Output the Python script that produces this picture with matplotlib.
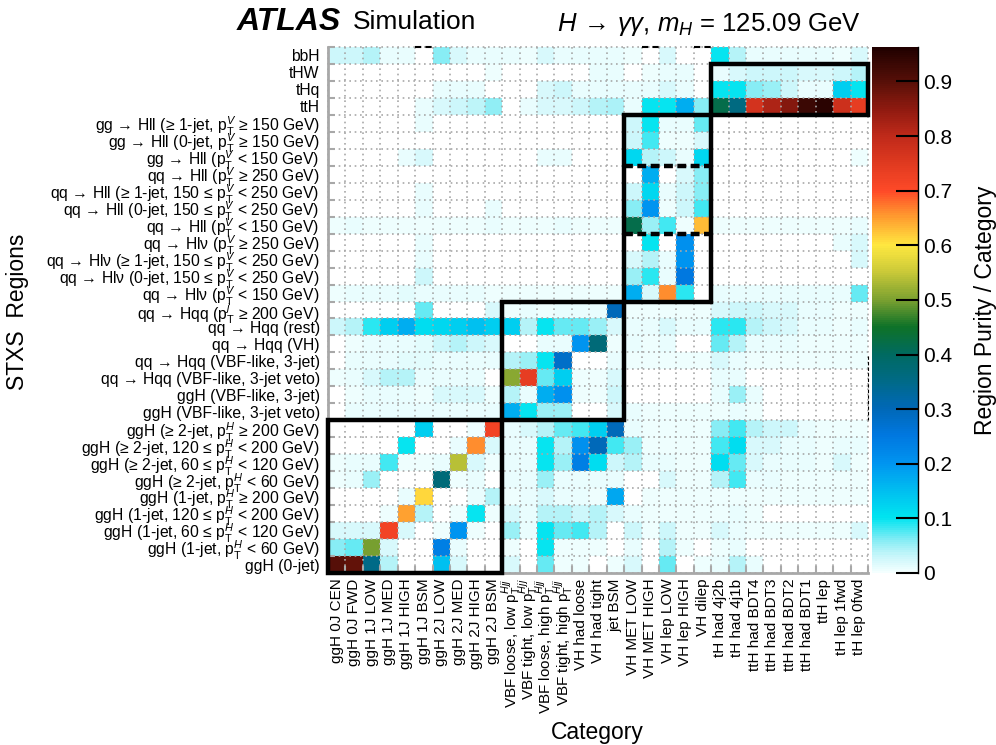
import numpy as np
import matplotlib
matplotlib.use("Agg")
import matplotlib.pyplot as plt
from matplotlib.colors import LinearSegmentedColormap, Normalize
from matplotlib.patches import Rectangle

plt.rcParams['font.family'] = ['Liberation Sans', 'DejaVu Sans']
plt.rcParams['mathtext.fontset'] = 'custom'
plt.rcParams['mathtext.rm'] = 'Liberation Sans'
plt.rcParams['mathtext.it'] = 'Liberation Sans:italic'
plt.rcParams['mathtext.bf'] = 'Liberation Sans:bold'

PV = r"$\mathrm{p}_{\mathrm{T}}^{V}$"
PH = r"$\mathrm{p}_{\mathrm{T}}^{H}$"
PJ = r"$\mathrm{p}_{\mathrm{T}}^{j}$"
PHJJ = r"$\mathrm{p}_{\mathrm{T}}^{Hjj}$"

categories = ["ggH 0J CEN", "ggH 0J FWD", "ggH 1J LOW", "ggH 1J MED", "ggH 1J HIGH",
              "ggH 1J BSM", "ggH 2J LOW", "ggH 2J MED", "ggH 2J HIGH", "ggH 2J BSM",
              "VBF loose, low " + PHJJ, "VBF tight, low " + PHJJ,
              "VBF loose, high " + PHJJ, "VBF tight, high " + PHJJ,
              "VH had loose", "VH had tight", "jet BSM", "VH MET LOW", "VH MET HIGH",
              "VH lep LOW", "VH lep HIGH", "VH dilep", "tH had 4j2b", "tH had 4j1b",
              "ttH had BDT4", "ttH had BDT3", "ttH had BDT2", "ttH had BDT1",
              "ttH lep", "tH lep 1fwd", "tH lep 0fwd"]

regions = ["bbH", "tHW", "tHq", "ttH",
           "gg → Hll (≥ 1-jet, " + PV + " ≥ 150 GeV)",
           "gg → Hll (0-jet, " + PV + " ≥ 150 GeV)",
           "gg → Hll (" + PV + " < 150 GeV)",
           "qq → Hll (" + PV + " ≥ 250 GeV)",
           "qq → Hll (≥ 1-jet, 150 ≤ " + PV + " < 250 GeV)",
           "qq → Hll (0-jet, 150 ≤ " + PV + " < 250 GeV)",
           "qq → Hll (" + PV + " < 150 GeV)",
           "qq → Hlν (" + PV + " ≥ 250 GeV)",
           "qq → Hlν (≥ 1-jet, 150 ≤ " + PV + " < 250 GeV)",
           "qq → Hlν (0-jet, 150 ≤ " + PV + " < 250 GeV)",
           "qq → Hlν (" + PV + " < 150 GeV)",
           "qq → Hqq (" + PJ + " ≥ 200 GeV)",
           "qq → Hqq (rest)",
           "qq → Hqq (VH)",
           "qq → Hqq (VBF-like, 3-jet)",
           "qq → Hqq (VBF-like, 3-jet veto)",
           "ggH (VBF-like, 3-jet)",
           "ggH (VBF-like, 3-jet veto)",
           "ggH (≥ 2-jet, " + PH + " ≥ 200 GeV)",
           "ggH (≥ 2-jet, 120 ≤ " + PH + " < 200 GeV)",
           "ggH (≥ 2-jet, 60 ≤ " + PH + " < 120 GeV)",
           "ggH (≥ 2-jet, " + PH + " < 60 GeV)",
           "ggH (1-jet, " + PH + " ≥ 200 GeV)",
           "ggH (1-jet, 120 ≤ " + PH + " < 200 GeV)",
           "ggH (1-jet, 60 ≤ " + PH + " < 120 GeV)",
           "ggH (1-jet, " + PH + " < 60 GeV)",
           "ggH (0-jet)"]

# purity per STXS region (row, top to bottom) across the 31 categories
r_bbH = [.03,.03,.04,.01,.01,0,.06,.02,.01,.01, .01,.005,.02,.01,.01,.01,.01, .005,0,.02,0,0, .10,.04,.01,.01,.01,.01,.01,.005,.02]
r_tHW = [0,0,0,0,0,0,0,0,0,.005, 0,0,0,0,0,.01,.01, 0,.005,.01,.01,0, .01,.02,.03,.03,.03,.02,.02,.03,.04]
r_tHq = [0,0,0,0,0,0,.01,.01,.01,0, 0,0,.02,.03,.01,.01,.01, .01,.01,.02,.01,0, .10,.10,.06,.05,.03,.01,.01,.13,.10]
r_ttH = [0,0,0,0,0,.01,.02,.03,.035,.055, 0,.01,.02,.02,.03,.04,.045, .01,.10,.10,.17,.06, .42,.36,.77,.82,.86,.93,.95,.78,.74]
r_ggHll_1j = [0,0,0,0,0,.01,0,0,0,0, 0,0,0,0,0,0,0, .03,.10,.01,.01,.07, 0,0,0,0,0,0,0,0,0]
r_ggHll_0j = [0,0,0,0,0,0,0,0,0,0, 0,0,0,0,0,0,0, .03,.08,.005,.005,.02, 0,0,0,0,0,0,0,0,0]
r_ggHll_lo = [0,0,0,0,.01,.02,0,0,0,0, 0,0,.01,.01,0,0,0, .12,.04,.03,.01,.12, 0,0,0,0,0,0,0,0,.005]
r_qqHll_250 = [0,0,0,0,0,0,0,0,0,0, 0,0,0,0,0,0,0, 0,.17,0,.02,.06, 0,0,0,0,0,0,0,0,0]
r_qqHll_1j = [0,0,0,0,0,.01,0,0,0,0, 0,0,0,0,0,0,0, .03,.12,.01,.03,.06, 0,0,0,0,0,0,0,0,0]
r_qqHll_0j = [0,0,0,0,0,.01,0,0,0,.01, 0,0,0,0,0,0,0, .06,.20,.005,.03,.08, 0,0,0,0,0,0,0,0,0]
r_qqHll_lo = [.005,.01,.005,.005,.005,.005,.005,.005,.005,.01, .005,.005,.005,.01,.005,.005,.005, .42,.05,.08,.005,.63, .005,.005,.005,.005,.005,.005,.005,.005,.01]
r_qqHlv_250 = [0,0,0,0,0,.01,0,0,0,0, 0,0,0,0,0,0,0, 0,.10,0,.21,0, 0,0,0,0,0,0,0,.01,.02]
r_qqHlv_1j = [0,0,0,0,0,.01,0,0,0,0, 0,0,0,0,0,0,0, .02,.04,.01,.20,0, 0,0,0,0,0,0,0,0,.02]
r_qqHlv_0j = [0,0,0,0,0,.03,0,0,0,0, 0,0,0,0,0,0,0, .05,.09,.01,.25,0, 0,0,0,0,0,0,0,0,0]
r_qqHlv_lo = [.005,.01,.01,.01,.015,.01,.01,.01,.01,.005, .005,.005,.005,.005,.005,.005,.005, .17,.02,.66,.09,0, .01,.01,.01,.01,.01,.01,.01,.01,.07]
r_qqHqq_200 = [0,0,0,0,0,.07,0,0,0,.02, .005,.01,.005,.01,.01,.01,.30, .005,.005,.005,.005,.005, .02,.03,.03,.02,.02,.01,.01,.005,.005]
r_qqHqq_rest = [.03,.04,.09,.13,.17,.11,.12,.13,.15,.13, .13,.04,.10,.07,.07,.05,.02, .01,.01,.02,.01,.01, .09,.09,.04,.03,.02,.01,.01,.005,.01]
r_qqHqq_VH = [0,.005,.01,.01,.01,.015,.03,.04,.03,.02, 0,0,.01,.01,.20,.37,.005, .01,.005,.01,0,0, .07,.04,.01,.01,.01,.005,.005,.005,.005]
r_qqHqq_vbf3j = [0,.01,.01,.01,.015,.015,.01,.01,.01,.01, .04,.05,.10,.28,0,0,.01, .005,.005,.005,.005,.005, .02,.01,.005,.005,.005,.005,.005,.005,.005]
r_qqHqq_vbfveto = [.005,.01,.02,.04,.04,.01,.01,.01,.01,0, .51,.74,.07,.13,.005,.005,.02, 0,0,0,0,0, .01,.01,0,0,0,0,0,0,0]
r_ggH_vbf3j = [0,.005,.01,.01,.01,.005,.02,.02,.02,.005, .04,.01,.17,.21,.005,.005,.03, 0,0,0,0,0, .01,.05,.01,0,0,0,0,0,0]
r_ggH_vbfveto = [0,.01,.01,.01,.01,.01,.01,.01,.01,.01, .17,.10,.05,.05,0,0,.02, .01,.005,.005,.005,.005, .005,.01,.005,0,0,0,0,0,0]
r_ggH_2j_200 = [0,0,0,0,0,.13,0,0,.005,.72, .01,.02,.04,.07,.08,.13,.30, .01,.005,.005,.005,.005, .06,.08,.04,.03,.03,.01,.005,.005,.005]
r_ggH_2j_120 = [0,0,0,0,.10,0,0,.01,.66,.02, .01,.01,.10,.04,.21,.30,.08, .05,.005,.005,.005,.005, .08,.11,.02,.02,.01,.01,.005,.01,.01]
r_ggH_2j_60 = [.005,.01,.01,.08,.005,.005,.01,.54,.02,.005, .01,.01,.10,.05,.24,.11,.03, .04,.01,.01,.005,.005, .11,.07,.02,.01,.01,.01,.005,.02,.005]
r_ggH_2j_0 = [.005,.01,.05,0,0,0,.37,.005,.01,0, .01,.01,.05,.01,.01,.01,.01, 0,0,.02,.005,.005, .04,.08,.01,.01,.005,.005,.005,.005,.005]
r_ggH_1j_200 = [0,0,0,0,.01,.61,0,0,.01,.04, .005,.01,.02,.01,.01,.005,.18, 0,.005,.005,.005,.005, .005,.005,.005,.005,.005,.005,.005,.005,.005]
r_ggH_1j_120 = [0,0,0,.005,.65,.04,0,.005,.10,.005, .02,.01,.04,.04,.03,.04,.02, .01,.005,.005,.005,.005, .005,.01,.005,0,0,0,0,0,0]
r_ggH_1j_60 = [.02,.02,.02,.72,.02,0,.005,.20,.005,0, .05,.01,.10,.07,.08,.04,0, .03,.005,.03,.005,.005, .02,.01,.005,.005,.005,.005,.005,.005,.02]
r_ggH_1j_0 = [.06,.07,.50,.02,0,0,.24,.01,0,0, .005,0,.10,.005,.005,.005,0, .01,0,.04,.005,0, .005,.01,0,0,0,0,0,0,0]
r_ggH_0j = [.90,.89,.35,.04,0,0,.15,.02,0,0, .02,0,.07,.005,.005,0,.005, .02,0,.07,0,.005, .01,.04,.01,0,0,0,0,0,0]

rows = [r_bbH, r_tHW, r_tHq, r_ttH, r_ggHll_1j, r_ggHll_0j, r_ggHll_lo,
        r_qqHll_250, r_qqHll_1j, r_qqHll_0j, r_qqHll_lo,
        r_qqHlv_250, r_qqHlv_1j, r_qqHlv_0j, r_qqHlv_lo,
        r_qqHqq_200, r_qqHqq_rest, r_qqHqq_VH, r_qqHqq_vbf3j, r_qqHqq_vbfveto,
        r_ggH_vbf3j, r_ggH_vbfveto, r_ggH_2j_200, r_ggH_2j_120, r_ggH_2j_60, r_ggH_2j_0,
        r_ggH_1j_200, r_ggH_1j_120, r_ggH_1j_60, r_ggH_1j_0, r_ggH_0j]
Z = np.array(rows, dtype=float)
Zm = np.ma.masked_where(Z <= 0, Z)

VMAX = 0.963
stops = [(0.00, '#f4ffff'), (0.03, '#c8f6fa'), (0.06, '#80ecf4'), (0.10, '#00e4f0'),
         (0.15, '#00bef0'), (0.20, '#0094f0'), (0.25, '#0078e0'), (0.30, '#0068b8'),
         (0.35, '#006a88'), (0.40, '#006a60'), (0.45, '#0e7228'), (0.50, '#7aa030'),
         (0.55, '#c8c838'), (0.60, '#ffe840'), (0.65, '#ffa030'), (0.70, '#ff4a28'),
         (0.75, '#e03a20'), (0.80, '#c02a1a'), (0.85, '#901a10'), (0.90, '#581008'),
         (VMAX, '#200000')]
cmap = LinearSegmentedColormap.from_list('atlas', [(v / VMAX, c) for v, c in stops])
cmap.set_bad('white')

W, H = 996, 745
fig = plt.figure(figsize=(W / 100, H / 100), dpi=100)
ax = fig.add_axes([328 / W, 1 - 573 / H, (868 - 328) / W, (573 - 47) / H])
cax = fig.add_axes([872 / W, 1 - 573 / H, (918 - 872) / W, (573 - 47) / H])

n_c, n_r = len(categories), len(regions)
mesh = ax.pcolormesh(np.arange(n_c + 1), np.arange(n_r + 1), Zm, cmap=cmap,
                     norm=Normalize(0, VMAX), zorder=1)
ax.set_xlim(0, n_c)
ax.set_ylim(n_r, 0)

gridc = '#a8a8a8'
for i in range(n_c + 1):
    ax.plot([i, i], [0, n_r], ls=(0, (1, 2.2)), color=gridc, lw=1.2, zorder=2, clip_on=False)
for j in range(n_r + 1):
    ax.plot([0, n_c], [j, j], ls=(0, (1, 2.2)), color=gridc, lw=1.2, zorder=2, clip_on=False)

# tick marks on bin edges, labels at bin centres
ax.set_xticks(np.arange(n_c + 1))
ax.set_yticks(np.arange(n_r + 1))
ax.set_xticklabels([])
ax.set_yticklabels([])
ax.tick_params(which='major', direction='in', length=5, width=1.5, color=gridc)
ax.set_xticks(np.arange(n_c) + 0.5, minor=True)
ax.set_yticks(np.arange(n_r) + 0.5, minor=True)
ax.set_xticklabels(categories, minor=True, rotation=90, fontsize=11, va='top', ha='center')
ax.set_yticklabels(regions, minor=True, fontsize=11.3)
ax.tick_params(which='minor', length=0, pad=6)
ax.tick_params(axis='x', which='minor', pad=4)
for s in ['top', 'right']:
    ax.spines[s].set_visible(False)
for s in ['left', 'bottom']:
    ax.spines[s].set_color(gridc)
    ax.spines[s].set_linewidth(2)

# category boxes
for (x0, y0, w, h) in [(0, 22, 10, 9), (10, 15, 7, 7), (17, 4, 5, 11), (22, 1, 9, 3)]:
    ax.add_patch(Rectangle((x0, y0), w, h, fill=False, ec='black', lw=3.2,
                           zorder=5, clip_on=False))
for yy in [7, 11]:
    ax.plot([17, 22], [yy, yy], color='black', lw=3.2, ls=(0, (2, 1)), zorder=5)
ax.plot([31, 31], [18.2, 22], color='black', lw=0.8, ls=(0, (3, 2)), zorder=5, clip_on=False)
for (a, b) in [(5, 6), (18, 19), (21, 22)]:
    ax.plot([a, b], [0, 0], color='black', lw=1.5, ls=(0, (3, 2)), zorder=5, clip_on=False)

# colour bar
cb = fig.colorbar(mesh, cax=cax)
cb.outline.set_visible(False)
cb.set_ticks(np.arange(0, 0.91, 0.1))
cb.set_ticklabels(['0', '0.1', '0.2', '0.3', '0.4', '0.5', '0.6', '0.7', '0.8', '0.9'])
cax.tick_params(direction='in', length=16, width=1.5, color='black', labelsize=15, pad=4)
cax.plot([1, 1], [0, 1], transform=cax.transAxes, color='black', lw=1, clip_on=False)

fig.text(985 / W, 1 - 310 / H, "Region Purity / Category", rotation=90,
         ha='center', va='center', fontsize=16.5)
fig.text(18 / W, 1 - 312 / H, "STXS  Regions", rotation=90,
         ha='center', va='center', fontsize=16.5)
fig.text(597 / W, 1 - 733 / H, "Category", ha='center', va='center', fontsize=16.5)

fig.text(237 / W, 1 - 22 / H, "ATLAS", fontsize=23, fontweight='bold', fontstyle='italic',
         ha='left', va='center')
fig.text(353 / W, 1 - 22 / H, "Simulation", fontsize=19, ha='left', va='center')
fig.text(557 / W, 1 - 24 / H, r"$H\,\rightarrow\,\gamma\gamma$, $m_{H}$ = 125.09 GeV",
         fontsize=18.5, ha='left', va='center')

fig.savefig("out.png", dpi=100)
